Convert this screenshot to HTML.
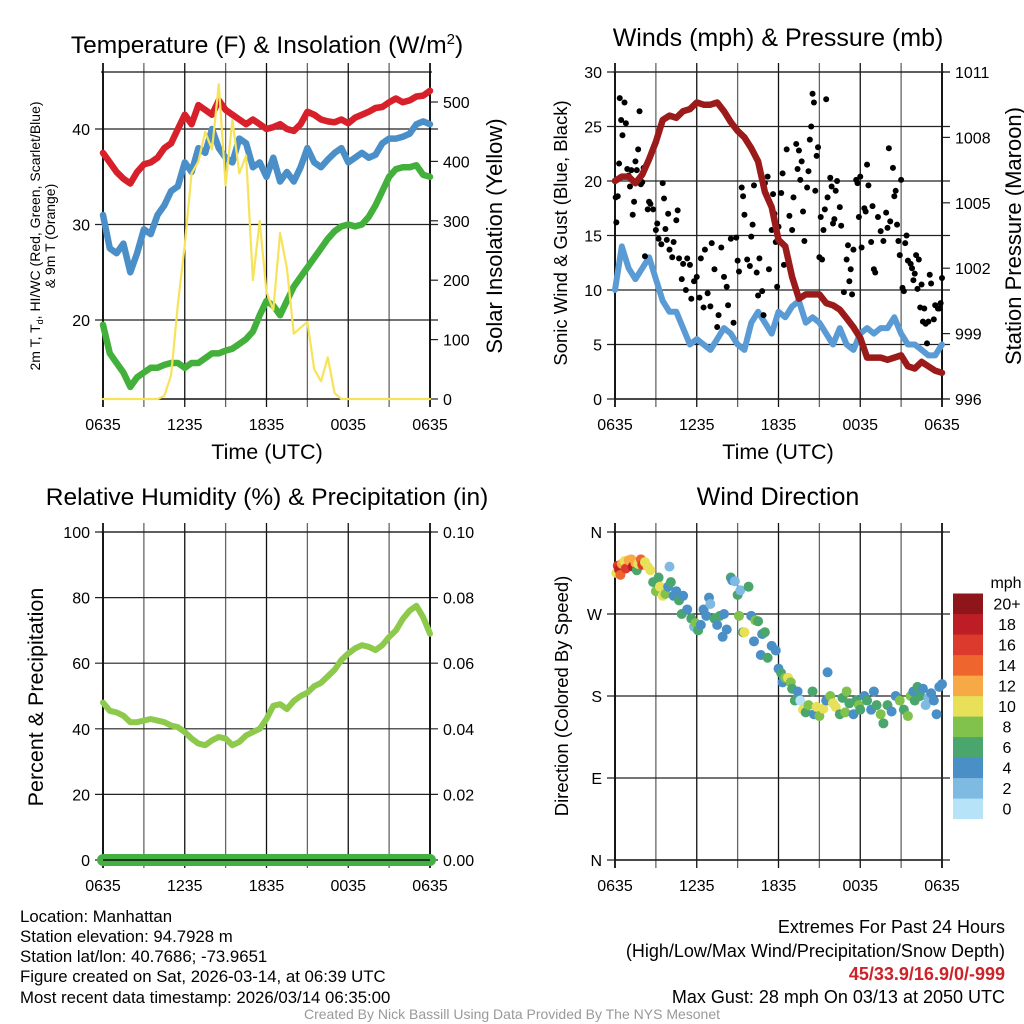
<!DOCTYPE html>
<html><head><meta charset="utf-8">
<style>
html,body{margin:0;padding:0;background:#fff;}
svg{display:block;font-family:"Liberation Sans",Arial,sans-serif;}
</style></head>
<body>
<svg id="chart" width="1024" height="1024" viewBox="0 0 1024 1024" xmlns="http://www.w3.org/2000/svg">
<rect width="1024" height="1024" fill="#fff"/>
<g id="layer-grid"></g>
<g id="layer-data"></g>
<g id="layer-text">
<text x="267" y="53" font-size="24.5" text-anchor="middle">Temperature (F) &amp; Insolation (W/m<tspan dy="-9" font-size="15">2</tspan><tspan dy="9">)</tspan></text>
<text x="778" y="46" font-size="25" text-anchor="middle">Winds (mph) &amp; Pressure (mb)</text>
<text x="267" y="505" font-size="24.5" text-anchor="middle">Relative Humidity (%) &amp; Precipitation (in)</text>
<text x="778" y="505" font-size="25" text-anchor="middle">Wind Direction</text>
<text x="267" y="459" font-size="21.5" text-anchor="middle">Time (UTC)</text>
<text x="778" y="459" font-size="21.5" text-anchor="middle">Time (UTC)</text>
<text transform="translate(40,236) rotate(-90)" font-size="14" text-anchor="middle">2m T, T<tspan font-size="9" dy="3">d</tspan><tspan dy="-3">, HI/WC (Red, Green, Scarlet/Blue)</tspan></text>
<text transform="translate(55,236) rotate(-90)" font-size="14" text-anchor="middle">&amp; 9m T (Orange)</text>
<text transform="translate(502,236) rotate(-90)" font-size="22" text-anchor="middle">Solar Insolation (Yellow)</text>
<text transform="translate(567,233) rotate(-90)" font-size="18.5" text-anchor="middle">Sonic Wind &amp; Gust (Blue, Black)</text>
<text transform="translate(1021,236) rotate(-90)" font-size="22" text-anchor="middle">Station Pressure (Maroon)</text>
<text transform="translate(43,697) rotate(-90)" font-size="21.5" text-anchor="middle">Percent &amp; Precipitation</text>
<text transform="translate(568,696) rotate(-90)" font-size="18.5" text-anchor="middle">Direction (Colored By Speed)</text>
<text x="1006" y="588" font-size="16" text-anchor="middle">mph</text>
<g font-size="16.8">
<text x="20" y="922">Location: Manhattan</text>
<text x="20" y="942">Station elevation: 94.7928 m</text>
<text x="20" y="962">Station lat/lon: 40.7686; -73.9651</text>
<text x="20" y="982">Figure created on Sat, 2026-03-14, at 06:39 UTC</text>
<text x="20" y="1003">Most recent data timestamp: 2026/03/14 06:35:00</text>
</g>
<g font-size="18" text-anchor="end">
<text x="1005" y="933">Extremes For Past 24 Hours</text>
<text x="1005" y="957">(High/Low/Max Wind/Precipitation/Snow Depth)</text>
<text x="1005" y="980" fill="#cc2229" font-weight="bold">45/33.9/16.9/0/-999</text>
<text x="1005" y="1003">Max Gust: 28 mph On 03/13 at 2050 UTC</text>
</g>
<text x="512" y="1019" font-size="14" fill="#999" text-anchor="middle">Created By Nick Bassill Using Data Provided By The NYS Mesonet</text>
</g>
</svg>
<script>
// ---------- data ----------
const hours = [0,0.5,1,1.5,2,2.5,3,3.5,4,4.5,5,5.5,6,6.5,7,7.5,8,8.5,9,9.5,10,10.5,11,11.5,12,12.5,13,13.5,14,14.5,15,15.5,16,16.5,17,17.5,18,18.5,19,19.5,20,20.5,21,21.5,22,22.5,23,23.5,24];
const xTickLabels = ["0635","1235","1835","0035","0635"];
const tempRed = [37.5,36.5,35.5,34.8,34.3,35.5,36.3,36.5,37,38,38.5,40,41.5,40.5,42.5,42,41.5,43,42,41.5,41,40.5,41,40.5,40,40.2,40.5,40,39.8,40.5,41.8,41.5,41,40.8,40.7,41,40.6,41.2,41.5,41.8,42.2,42.3,42.8,43.2,42.8,43,43.4,43.5,44];
const windChillBlue = [31,27.5,27,28,25,27,29.5,29,31,32,33.5,34,36.5,35.5,38,37.5,40,38,37,36.5,39,38.5,36,36.5,35,37,34.5,35.5,34.5,36,38,36.5,36,36.8,37.5,38,36.5,37,37.5,37,37.3,38.5,39,39,39.2,39.5,40.5,40.8,40.5];
const dewGreen = [19.5,16.5,15.5,14.5,13,14,14.5,15,15,15.3,15.5,15.5,15,15.5,15.5,16,16.5,16.5,16.8,17,17.5,18,18.8,20.5,22,21.5,20.5,22,23.5,24.5,25.5,26.5,27.5,28.5,29.3,29.8,30,29.8,30,30.8,32,33.5,35,35.8,36,36,36.2,35.2,35];
const solarYellow = [0,0,0,0,0,0,0,0,0,5,40,160,260,380,400,450,420,530,360,470,380,410,200,300,180,150,280,220,110,120,130,50,30,70,10,0,0,0,0,0,0,0,0,0,0,0,0,0,0];
const tempTicks = [20,30,40];
const solarTicks = [0,100,200,300,400,500];

const windSpeed = [10,14,12,11,12,13,11,9,8,8,6.5,5,5.5,5,4.5,5.5,6.5,6,5,4.5,7,8,7,6,8,7.5,8.5,9,7,7.5,7,6,5,6.5,5,4.5,6,6.5,6,6.5,6.5,7.5,6,5,5,4.5,4,4,5];
const pressure = [1006.0,1006.2,1006.2,1005.9,1006.3,1007.0,1007.8,1008.8,1009.0,1008.9,1009.2,1009.3,1009.6,1009.5,1009.5,1009.6,1009.2,1008.7,1008.3,1008.0,1007.5,1006.9,1005.5,1004.8,1003.3,1003.0,1001.6,1000.6,1000.8,1000.8,1000.8,1000.4,1000.3,1000.1,999.7,999.3,998.8,997.9,997.9,997.9,997.8,997.9,998.0,997.5,997.4,997.7,997.5,997.3,997.2];
const gustHours = [0.05,0.1,0.2,0.3,0.35,0.45,0.55,0.7,0.8,0.9,1.0,1.1,1.2,1.3,1.4,1.5,1.6,1.7,1.8,1.9,2.0,2.1,2.2,2.4,2.5,2.6,2.8,3.0,3.1,3.2,3.4,3.5,3.6,3.7,3.8,3.9,4.0,4.2,4.3,4.5,4.6,4.7,4.9,5.0,5.2,5.3,5.5,5.6,5.8,6.0,6.2,6.3,6.5,6.6,6.8,7.0,7.1,7.3,7.5,7.6,7.8,8.0,8.2,8.3,8.5,8.7,8.9,9.0,9.1,9.3,9.4,9.5,9.7,9.9,10.0,10.1,10.2,10.4,10.5,10.6,10.8,10.9,11.0,11.1,11.2,11.3,11.5,11.6,11.7,11.8,11.9,12.0,12.2,12.3,12.4,12.6,12.8,13.0,13.1,13.3,13.4,13.5,13.6,13.7,13.8,13.9,14.1,14.2,14.3,14.4,14.5,14.6,14.7,14.8,14.9,15.0,15.1,15.2,15.3,15.4,15.5,15.6,15.8,15.9,16.0,16.1,16.2,16.3,16.5,16.6,16.8,17.0,17.1,17.2,17.3,17.4,17.5,17.7,17.8,17.9,18.0,18.1,18.3,18.4,18.5,18.6,18.8,18.9,19.0,19.1,19.3,19.5,19.7,19.9,20.0,20.1,20.2,20.4,20.5,20.6,20.7,20.8,20.9,21.0,21.1,21.2,21.3,21.4,21.5,21.7,21.8,21.9,22.0,22.1,22.2,22.3,22.4,22.5,22.6,22.7,22.8,22.9,23.0,23.1,23.2,23.4,23.5,23.7,23.8,23.9,24.0];
const gustValues = [18.5,16.2,18.6,21.6,27.6,25.6,24.2,27.2,25.3,21.1,20.5,19.5,21,16.9,18.1,21.8,21,22.9,26.4,19.7,19.9,21.2,13.1,17.4,18.1,17.9,17.4,15.5,16.1,14.7,14.2,19.8,18.4,15.6,14.6,17,13.7,13,14.4,16.4,17.3,12.9,11,12.4,10,12.9,12.3,9.2,10.8,11.2,9.3,12.9,8.4,13.7,9.7,8.5,14.3,11.9,6.6,7.7,13.9,11.2,10.3,8.6,14.7,7,14.8,12.7,11.7,19.4,18.6,16.9,12.8,12.2,14.9,16,19.6,11.6,9.5,12.9,9.9,7.7,19.8,18.8,20.4,11.9,15.5,18.8,17,14.4,10.3,15.8,18.9,20.7,12.3,22.9,16.8,15.5,18.5,23.4,21.1,22.8,20.1,21.8,17.2,14.5,19.4,20.9,23.8,25.0,28.0,27.2,19.1,22.3,23.1,13.0,16.7,12.8,15.5,17.4,27.5,18.5,20.3,19.5,16.1,16.5,19.1,20,17.6,15.9,9.8,12.8,14.1,10.8,11.9,9.6,13.7,20.1,19.8,16.7,20.4,13.9,17.5,17.2,21.5,19.6,14.4,17.7,11.9,11.6,16.7,15.4,14.5,17.1,15.7,23,16.3,21.2,18.6,19.1,16,14.5,13.2,20.1,10.2,9.9,14.3,15,12.7,12.4,12,10.9,11.5,13.2,10.1,12.8,8.4,10.5,7.1,8.3,6.9,5.1,7.1,11.4,10.6,7.3,8.6,8.3,8.3,8.8,11.1];
const windTicks = [0,5,10,15,20,25,30];
const pressureTicks = [996,999,1002,1005,1008,1011];

const humidity = [48,45.5,45,44,42,42,42.5,43,42.5,42,41,40.5,39,37,35.5,35,36.5,37.5,37,35,36,38,39,40,43,47,47.5,46,48.5,50,51,53,54,56,58,61,63,64.5,65.5,65,64,65.5,68,70,73.5,76,77.5,74,69];
const precip = [0,0,0,0,0,0,0,0,0,0,0,0,0,0,0,0,0,0,0,0,0,0,0,0,0,0,0,0,0,0,0,0,0,0,0,0,0,0,0,0,0,0,0,0,0,0,0,0,0];
const rhTicks = [0,20,40,60,80,100];
const precipTicks = ["0.00","0.02","0.04","0.06","0.08","0.10"];

const dirHours = [0.1,0.2,0.3,0.4,0.5,0.7,0.8,1.0,1.2,1.3,1.5,1.6,1.7,1.9,2.0,2.2,2.4,2.6,2.8,3.0,3.2,3.3,3.5,3.7,3.9,4.0,4.1,4.3,4.5,4.7,4.9,5.0,5.3,5.6,5.8,5.9,6.1,6.3,6.5,6.7,6.9,7.0,7.3,7.5,7.7,7.9,8.0,8.2,8.5,8.6,8.8,9.0,9.1,9.2,9.4,9.5,9.8,10.0,10.2,10.3,10.5,10.7,10.8,11.0,11.2,11.5,11.8,12.0,12.2,12.3,12.5,12.7,12.9,13.0,13.2,13.4,13.6,13.8,14.0,14.2,14.5,14.6,14.8,15.0,15.3,15.5,15.6,15.8,16.0,16.2,16.5,16.7,16.9,17.0,17.2,17.5,17.7,17.9,18.0,18.3,18.5,18.8,19.0,19.2,19.5,19.7,20.0,20.3,20.6,20.9,21.2,21.5,21.7,21.9,22.0,22.2,22.4,22.6,22.8,23.0,23.2,23.4,23.6,23.8,24.0];
const dirDegrees = [315,323,319,313,325,328,320,329,330,322,326,318,325,330,324,327,322,318,305,295,310,300,290,292,300,322,305,290,295,285,270,290,275,265,256,260,252,258,275,268,288,281,265,258,268,245,270,253,310,307,306,291,268,296,250,250,300,268,240,263,262,225,248,250,222,235,230,210,205,195,200,200,195,188,175,185,175,165,162,170,185,160,168,158,166,175,206,180,172,168,160,178,162,185,172,160,175,170,165,180,175,165,185,170,160,150,170,163,180,175,165,158,180,185,175,190,180,188,170,178,183,175,160,190,193];
const dirSpeeds = [10,16,18,15,12,11,16,12,13,18,12,7,11,14,17,10,10,10,6,8,7,10,10,8,5,2,6,4,5,7,6,4,5,7,3,8,6,5,4,4,4,3,7,5,6,4,4,4,6,4,3,6,8,2,7,10,6,5,5,8,6,4,4,7,6,4,4,5,6,4,9,10,8,7,6,4,1,10,6,8,6,4,10,8,10,4,4,8,10,10,6,6,8,8,6,4,6,8,6,4,6,4,4,6,8,6,6,4,4,8,6,8,8,4,6,6,6,4,2,2,4,4,4,4,4];
const dirTickLabels = ["N","W","S","E","N"];
const speedBinLabels = ["0","2","4","6","8","10","12","14","16","18","20+"];
const speedColors = ["#b6e3f7","#7fbae3","#4a8fc6","#4aa66c","#80c24b","#e8e058","#f6a945","#ee652e","#dc3a2c","#bd1e26","#8e1519"];

// ---------- helpers ----------
const NS = "http://www.w3.org/2000/svg";
const gGrid = document.getElementById('layer-grid');
const gData = document.getElementById('layer-data');
function mk(tag, attrs, parent){const e=document.createElementNS(NS,tag);for(const k in attrs)e.setAttribute(k,attrs[k]);parent.appendChild(e);return e;}
function scaleX(p,h){return p.x0 + h/24*(p.x1-p.x0);}
function scaleY(p,v,lo,hi){return p.y1 - (v-lo)/(hi-lo)*(p.y1-p.y0);}

const P1={x0:103,x1:430,y0:72,y1:399};
const P2={x0:615,x1:942,y0:72,y1:399};
const P3={x0:103,x1:430,y0:532,y1:860};
const P4={x0:615,x1:942,y0:532,y1:860};
const T_LO=11.73,T_HI=45.97,S_LO=0,S_HI=550.5;
const FS=16;

function frame(p,name){
  const g=mk('g',{},gGrid);
  
  
  for(let i=0;i<=8;i++){
    const x=scaleX(p,i*3);
    const ln=mk('line',{x1:x,x2:x,y1:p.y0-9,y2:p.y1+8,stroke:(i%2===0?'#111':'#666'),'stroke-width':(i===0||i===8)?1.8:1.3},g);
    
    
  }
  for(let i=0;i<5;i++){
    const t=mk('text',{x:scaleX(p,i*6),y:p.y1+31,'font-size':FS,'text-anchor':'middle'},g);
    t.textContent=xTickLabels[i];
    
    
  }
  mk('line',{x1:p.x0,x2:p.x1,y1:p.y1,y2:p.y1,stroke:'#111','stroke-width':1.5},g);
  mk('line',{x1:p.x0-2,x2:p.x1+2,y1:p.y0,y2:p.y0,stroke:'#111','stroke-width':1.3},g);
  return g;
}
function hgrid(g,p,y,labelL,labelR){
  const l=mk('line',{x1:p.x0-8,x2:p.x1+8,y1:y,y2:y,stroke:'#222','stroke-width':1.2},g);
  
  
  if(labelL!==null){const t=mk('text',{x:p.x0-13,y:y+6,'font-size':FS,'text-anchor':'end'},g);t.textContent=labelL;
    
    }
  if(labelR!==null){const t=mk('text',{x:p.x1+13,y:y+6,'font-size':FS,'text-anchor':'start'},g);t.textContent=labelR;
    
    }
}
function rightTick(g,p,y,label){
  mk('line',{x1:p.x1,x2:p.x1+8,y1:y,y2:y,stroke:'#222','stroke-width':1.2},g);
  const t=mk('text',{x:p.x1+13,y:y+6,'font-size':FS},g);t.textContent=label;
  
  
}
function line(p,xs,ys,lo,hi,color,w,name){
  let d='';
  for(let i=0;i<xs.length;i++){d+=(i?'L':'M')+scaleX(p,xs[i]).toFixed(1)+','+scaleY(p,ys[i],lo,hi).toFixed(1);}
  const e=mk('path',{d:d,fill:'none',stroke:color,'stroke-width':w,'stroke-linejoin':'round','stroke-linecap':'round'},gData);
  
  
}

// ---------- panel 1 ----------
let g=frame(P1,'temperature');
tempTicks.forEach(v=>hgrid(g,P1,scaleY(P1,v,T_LO,T_HI),String(v),null));
solarTicks.forEach(v=>rightTick(g,P1,scaleY(P1,v,S_LO,S_HI),String(v)));
mk('line',{x1:P1.x0,x2:P1.x0,y1:P1.y0,y2:P1.y1,stroke:'#111','stroke-width':1.8},g);
mk('line',{x1:P1.x1,x2:P1.x1,y1:P1.y0,y2:P1.y1,stroke:'#111','stroke-width':1.8},g);
line(P1,hours,tempRed,T_LO,T_HI,'#d7202a',6.5,'temperature-line');
line(P1,hours,windChillBlue,T_LO,T_HI,'#4a8fc8',6.5,'wind-chill-line');
line(P1,hours,dewGreen,T_LO,T_HI,'#44b03c',6.5,'dewpoint-line');
line(P1,hours,solarYellow,S_LO,S_HI,'#f7e35a',2.2,'insolation-line');

// ---------- panel 2 ----------
g=frame(P2,'winds');
windTicks.forEach(v=>hgrid(g,P2,scaleY(P2,v,0,30),String(v),null));
pressureTicks.forEach(v=>rightTick(g,P2,scaleY(P2,v,996,1011),String(v)));
mk('line',{x1:P2.x0,x2:P2.x0,y1:P2.y0,y2:P2.y1,stroke:'#111','stroke-width':1.8},g);
mk('line',{x1:P2.x1,x2:P2.x1,y1:P2.y0,y2:P2.y1,stroke:'#111','stroke-width':1.8},g);
line(P2,hours,windSpeed,0,30,'#5b9bd5',6,'sonic-wind-line');
for(let i=0;i<gustHours.length;i++){
  const c=mk('circle',{cx:scaleX(P2,gustHours[i]),cy:scaleY(P2,gustValues[i],0,30),r:3,fill:'#000'},gData);
  
  
}
line(P2,hours,pressure,996,1011,'#9b1b1b',6.5,'pressure-line');

// ---------- panel 3 ----------
g=frame(P3,'humidity');
rhTicks.forEach((v,i)=>hgrid(g,P3,scaleY(P3,v,0,100),String(v),precipTicks[i]));
mk('line',{x1:P3.x0,x2:P3.x0,y1:P3.y0,y2:P3.y1,stroke:'#111','stroke-width':1.8},g);
mk('line',{x1:P3.x1,x2:P3.x1,y1:P3.y0,y2:P3.y1,stroke:'#111','stroke-width':1.8},g);
line(P3,hours,humidity,0,100,'#8dc94b',6,'humidity-line');
line(P3,hours,precip,0,0.1,'#44b044',12,'precipitation-line');
mk('line',{x1:P3.x0,x2:P3.x1,y1:P3.y1,y2:P3.y1,stroke:'#111','stroke-width':1.5},gData);

// ---------- panel 4 ----------
g=frame(P4,'wind-direction');
dirTickLabels.forEach((lab,i)=>hgrid(g,P4,scaleY(P4,360-i*90,0,360),lab,null));
mk('line',{x1:P4.x0,x2:P4.x0,y1:P4.y0,y2:P4.y1,stroke:'#111','stroke-width':1.8},g);
for(let i=0;i<dirHours.length;i++){
  const bin=Math.min(10,Math.floor(dirSpeeds[i]/2));
  const c=mk('circle',{cx:scaleX(P4,dirHours[i]),cy:scaleY(P4,dirDegrees[i],0,360),r:5,fill:speedColors[bin]},gData);
  
  
}
// colorbar
const cb=mk('g',{},gData);


for(let i=0;i<11;i++){
  const y=819-(i+1)*20.5;
  const r=mk('rect',{x:953,y:y,width:30,height:20.6,fill:speedColors[i]},cb);
  
  
  const t=mk('text',{x:1007,y:y+16,'font-size':FS,'text-anchor':'middle'},cb);
  t.textContent=speedBinLabels[i];
  
  
}
</script>
</body></html>
